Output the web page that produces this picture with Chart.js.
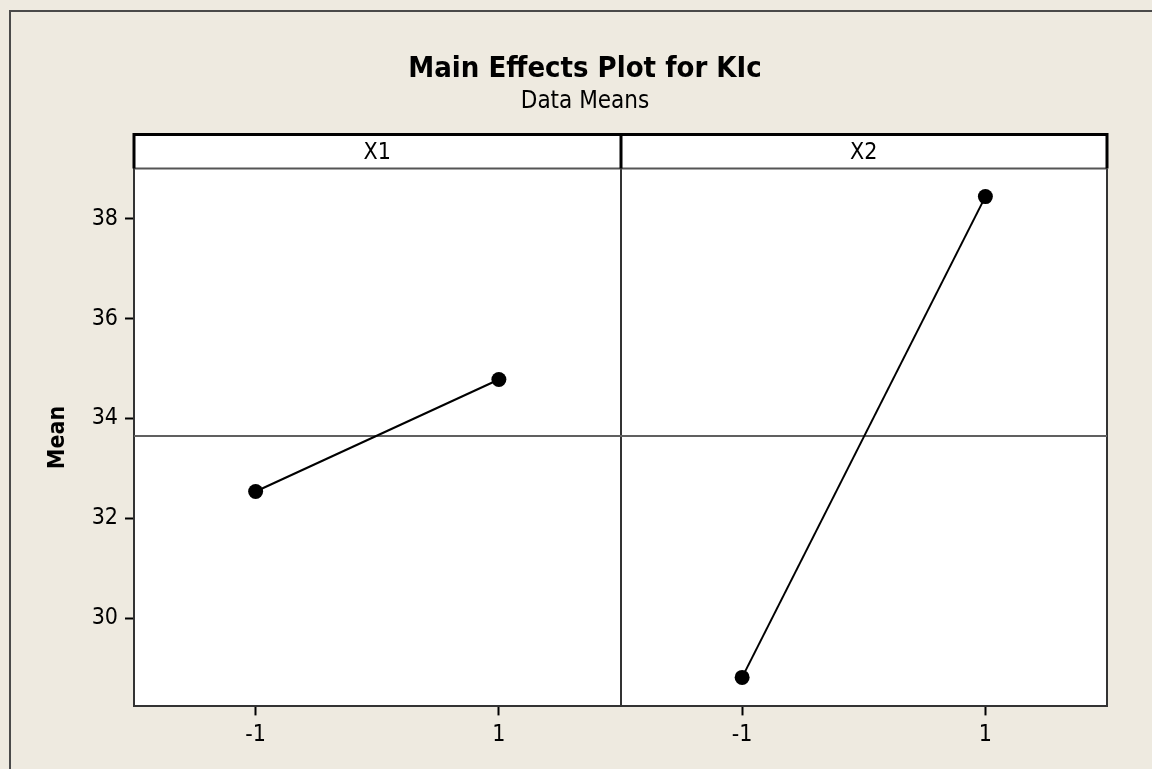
<!DOCTYPE html>
<html>
<head>
<meta charset="utf-8">
<title>Main Effects Plot for KIc</title>
<script src="https://cdn.jsdelivr.net/npm/chart.js@4/dist/chart.umd.min.js"></script>
<style>
  html, body { margin: 0; padding: 0; background: #EEEAE0; }
  #wrap { position: relative; width: 1152px; height: 769px; }
  canvas { display: block; }
</style>
</head>
<body>
<div id="wrap"><canvas id="chart" width="1152" height="769"></canvas></div>
<script>
// Factor names, their coded levels and the mean response at each level
const factors = ['X1', 'X2'];
const levels = [-1, 1];
const levelLabels = ['-1', '1'];
const meansX1 = [32.54, 34.78];
const meansX2 = [28.82, 38.44];
const grandMean = 33.65;
const yTicks = [30, 32, 34, 36, 38];

const FONT = "'DejaVu Sans Condensed', 'DejaVu Sans', sans-serif";
const HEADER_H = 34;
const PANEL_W = 4;           // each panel spans level -2 .. 2 on the shared x scale
const factorMeans = [meansX1, meansX2];

// Build one line per factor, shifting each panel along the shared x scale
const effectSets = factors.map((name, i) => ({
  label: name,
  data: levels.map((lv, j) => ({ x: lv + PANEL_W * i, y: factorMeans[i][j] })),
  borderColor: '#000',
  borderWidth: 2,
  pointRadius: 7.5,
  pointHoverRadius: 7.5,
  pointBackgroundColor: '#000',
  pointBorderWidth: 0,
  tension: 0,
  order: 0
}));

const xMin = -2, xMax = -2 + PANEL_W * factors.length;
const xTickValues = factors.flatMap((f, i) => levels.map(lv => lv + PANEL_W * i));

const meanSet = {
  label: 'Mean',
  data: [{ x: xMin, y: grandMean }, { x: xMax, y: grandMean }],
  borderColor: '#606060',
  borderWidth: 2,
  pointRadius: 0,
  order: 2
};

// Panel backgrounds, strip headers, panel dividers and outer frame
const panelFrame = {
  id: 'panelFrame',
  beforeDraw(chart) {
    const { ctx, chartArea: a } = chart;
    ctx.save();
    ctx.fillStyle = '#ffffff';
    ctx.fillRect(a.left, a.top - HEADER_H, a.right - a.left, a.bottom - a.top + HEADER_H);
    ctx.strokeStyle = '#4a4a4a';
    ctx.lineWidth = 2;
    ctx.beginPath();
    ctx.moveTo(10, chart.height + 5);
    ctx.lineTo(10, 11);
    ctx.lineTo(chart.width + 5, 11);
    ctx.stroke();
    ctx.restore();
  },
  beforeDatasetsDraw(chart) {
    const { ctx, chartArea: a, scales: { x } } = chart;
    ctx.save();
    ctx.strokeStyle = '#333';
    ctx.lineWidth = 2;
    ctx.beginPath();
    for (let i = 1; i < factors.length; i++) {
      const px = Math.round(x.getPixelForValue(xMin + PANEL_W * i));
      ctx.moveTo(px, a.top);
      ctx.lineTo(px, a.bottom);
    }
    ctx.moveTo(a.right, a.top);
    ctx.lineTo(a.right, a.bottom);
    ctx.stroke();
    ctx.restore();
  },
  afterDraw(chart) {
    const { ctx, chartArea: a, scales: { x } } = chart;
    const top = a.top - HEADER_H;
    ctx.save();
    // header bottom rule
    ctx.strokeStyle = '#555';
    ctx.lineWidth = 2;
    ctx.beginPath();
    ctx.moveTo(a.left, a.top);
    ctx.lineTo(a.right, a.top);
    ctx.stroke();
    // heavy header outline
    ctx.strokeStyle = '#000';
    ctx.lineWidth = 3;
    ctx.beginPath();
    ctx.moveTo(a.left, a.top);
    ctx.lineTo(a.left, top);
    ctx.lineTo(a.right, top);
    ctx.lineTo(a.right, a.top);
    for (let i = 1; i < factors.length; i++) {
      const px = Math.round(x.getPixelForValue(xMin + PANEL_W * i));
      ctx.moveTo(px, top);
      ctx.lineTo(px, a.top);
    }
    ctx.stroke();
    // header text
    ctx.fillStyle = '#000';
    ctx.font = '23px ' + FONT;
    ctx.textAlign = 'center';
    ctx.textBaseline = 'middle';
    factors.forEach((name, i) => {
      const l = x.getPixelForValue(xMin + PANEL_W * i);
      const r = x.getPixelForValue(xMin + PANEL_W * (i + 1));
      ctx.fillText(name, (l + r) / 2, top + HEADER_H / 2 + 1);
    });
    ctx.restore();
  }
};

new Chart(document.getElementById('chart'), {
  type: 'line',
  data: { datasets: [...effectSets, meanSet] },
  plugins: [panelFrame],
  options: {
    responsive: false,
    animation: false,
    events: [],
    layout: { padding: { left: 63, right: 45, top: 0, bottom: 14 } },
    plugins: {
      legend: { display: false },
      tooltip: { enabled: false },
      title: {
        display: true,
        text: 'Main Effects Plot for KIc',
        color: '#000',
        font: { family: FONT, size: 29, weight: 'bold', lineHeight: 1.2 },
        padding: { top: 52, bottom: 0 }
      },
      subtitle: {
        display: true,
        text: 'Data Means',
        color: '#000',
        font: { family: FONT, size: 24, weight: 'normal', lineHeight: 1.2 },
        padding: { top: 1, bottom: 52 }
      }
    },
    scales: {
      x: {
        type: 'linear',
        min: xMin,
        max: xMax,
        afterBuildTicks: s => { s.ticks = xTickValues.map(v => ({ value: v })); },
        ticks: {
          color: '#000',
          padding: 6,
          maxRotation: 0,
          autoSkip: false,
          font: { family: FONT, size: 23, lineHeight: 1.2 },
          callback: (v, idx) => levelLabels[idx % levels.length]
        },
        grid: { drawOnChartArea: false, drawTicks: true, tickLength: 9, tickColor: '#000', tickWidth: 2 },
        border: { display: true, color: '#333', width: 2 }
      },
      y: {
        min: 28.24,
        max: 39.0,
        afterBuildTicks: s => { s.ticks = yTicks.map(v => ({ value: v })); },
        afterFit: s => { s.width = 71; },
        ticks: {
          color: '#000',
          padding: 7,
          font: { family: FONT, size: 23, lineHeight: 1.2 },
          callback: v => String(v)
        },
        title: {
          display: true,
          text: 'Mean',
          color: '#000',
          font: { family: FONT, size: 23, weight: 'bold', lineHeight: 1.2 },
          padding: { top: -19, bottom: 0 }
        },
        grid: { drawOnChartArea: false, drawTicks: true, tickLength: 9, tickColor: '#000', tickWidth: 2 },
        border: { display: true, color: '#333', width: 2 }
      }
    }
  }
});
</script>
</body>
</html>
